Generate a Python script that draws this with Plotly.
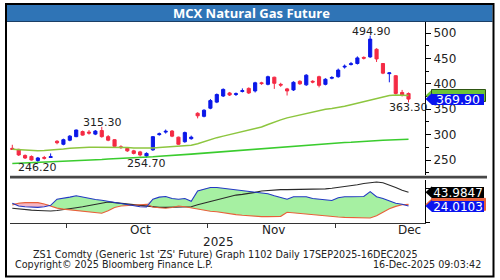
import numpy as np
import plotly.graph_objects as go

# ---------------- data ----------------
opens = [273, 271, 259, 257, 249, 255, 255, 287, 281, 289,
         296, 306, 305, 301, 308, 296, 290, 276, 273, 268,
         266, 258, 270, 300, 305, 307, 295, 286, 292, 342,
         336, 352, 364, 376, 382, 379, 385, 391, 386, 402,
         399, 413, 399, 390, 388, 405, 398, 405, 414, 399,
         411, 414, 433, 438, 440, 452, 453, 468, 440, 420,
         416, 383, 381]
highs = [280, 272, 261, 259, 256, 258, 263, 289, 292, 299,
         310, 308, 309, 309, 315.3, 299, 291, 279, 275, 270,
         268, 265, 297, 304, 310, 309, 296, 306, 298, 344,
         350, 370, 381, 391, 384, 383, 391, 393, 404, 404,
         416, 414, 402, 392, 405, 407, 419, 407, 416, 411,
         415, 430, 438, 443, 454, 454, 494.9, 470, 441, 423,
         417, 388, 383]
lows = [270, 258, 252, 249, 246.2, 251, 254, 281, 279, 287,
        295, 298, 300, 299, 294, 287, 276, 272, 266, 261,
        257, 254.7, 268, 298, 302, 295, 280, 284, 290, 332,
        334, 350, 362, 374, 376, 376, 383, 380, 383, 398,
        397, 390, 394, 377, 386, 398, 396, 401, 393, 397,
        409, 412, 430, 436, 438, 448, 451, 443, 419, 403,
        379, 375, 363.3]
closes = [271, 260, 254, 250, 254, 253.5, 256.5, 284, 290, 297,
          309, 299, 303, 307, 296, 289, 277, 274.5, 268, 263,
          260, 263, 296, 301.5, 306.5, 297, 281, 304, 295, 337,
          348, 367, 379, 389, 378, 380.5, 386.5, 382, 402, 400.5,
          414, 401, 397.5, 386, 403, 400, 417, 403.5, 397, 409,
          412.5, 427, 434.5, 439.5, 451, 450.5, 488, 449, 421, 421.5,
          381, 378, 369.9]
ma_short = [271, 270, 269, 268.5, 268, 268.5, 269, 270, 271.5, 273,
            274, 275, 275, 275, 275, 275, 275, 275, 274.5, 273.5,
            273, 273, 273.5, 274.5, 275.5, 277, 277.5, 278, 279, 282,
            286, 291, 294, 297, 300, 303, 306, 309, 312, 315,
            320, 325, 329, 333, 336, 339, 341.5, 344, 347, 350,
            351.5, 353, 356, 359, 362, 365, 368, 371, 375, 377,
            378, 378, 377]
ma_long = [243, 243.5, 244, 244.5, 245, 245.5, 246, 246.5, 247, 247.5,
           248.5, 249, 250, 250.5, 251, 252, 252.5, 253, 254, 254.5,
           255, 256, 256.5, 257.5, 258, 259, 259.5, 260.5, 261.5, 262.5,
           263.5, 264.5, 265.5, 266.5, 267.5, 268.5, 269.5, 270.5, 271.5, 272.5,
           273.5, 274.5, 275.5, 276.5, 277.5, 278.5, 279.5, 280, 281, 282,
           282.5, 283.5, 284.5, 285, 286, 286.5, 287.5, 288, 289, 289.5,
           290, 290.5, 291]
di_plus = [28, 24, 23, 22, 22, 23, 25, 34, 35, 37,
           39, 37, 35, 33.5, 32.5, 31, 29.5, 28, 26, 24,
           23, 22.6, 34, 37, 38, 35, 34, 35, 31, 46,
           49, 51, 51, 50, 48, 47, 46.5, 46, 45, 43,
           42, 39, 36, 34, 37.5, 37.5, 37.5, 35, 34, 33,
           32, 36, 37.5, 37.5, 37.5, 38, 45, 37.5, 35, 32,
           28, 26.5, 24.0103]
di_minus = [25.5, 28, 29, 29.4, 29, 27, 24, 21, 19.5, 18.5,
            17.5, 16.8, 15.5, 14, 13.4, 17, 22, 24, 25, 25.5,
            26, 26.5, 22.5, 21.5, 20.7, 22, 24, 23, 21.5, 19,
            17.5, 16.5, 15.7, 14, 12.5, 11.5, 10.5, 9.5, 8.7, 8.5,
            8.5, 8.5, 9, 15, 14, 13.4, 12.5, 11.5, 10.5, 9.5,
            8.7, 8, 7.5, 7, 6.5, 6, 6.5, 10, 15.5, 20,
            23.5, 26, 26.5]
adx = [20.7, 19.5, 18.5, 18, 17.5, 17, 16.8, 17.5, 18.5, 20,
       21.5, 23, 24.5, 26, 28, 30, 29, 28, 27, 25.5,
       24, 23, 22, 22, 22, 22, 22, 22, 23, 26,
       28.5, 31, 33.5, 36, 38.5, 40, 41, 42, 44, 46,
       47, 47.5, 48, 48, 48, 48, 48, 48, 48.5, 49,
       50, 51, 52, 53, 55, 57, 58.5, 59, 58, 55,
       51, 47, 43.9847]
month_labels = ["Oct", "Nov", "Dec"]
month_first_idx = [9, 31, 51]
month_label_pos = [20, 40.8, 62.2]
peak_idx = [14, 56]
trough_idx = [4, 21, 62]
title_text = "MCX Natural Gas Future"
year_text = "2025"
footer_1 = "ZS1 Comdty (Generic 1st 'ZS' Future) Graph 1102 Daily 17SEP2025-16DEC2025"
footer_2 = "Copyright\u00a9 2025 Bloomberg Finance L.P."
footer_3 = "16-Dec-2025 09:03:42"

# ---------------- geometry helpers ----------------
W, H = 500, 280
def px_x(p):
    return p / W
def px_y(p):
    return 1 - p / H

n = len(closes)
idx = list(range(n))
X_DOM = [px_x(10), px_x(425)]
Y1_DOM = [px_y(175), px_y(22)]
Y2_DOM = [px_y(222.5), px_y(180)]
X_RANGE = [-0.36, n - 1 + 2.58]
Y1_RANGE = [220.5, 521.7]
Y2_RANGE = [0, 62]
u1 = (Y1_RANGE[1] - Y1_RANGE[0]) / (175 - 22)     # price units per px
u2 = (Y2_RANGE[1] - Y2_RANGE[0]) / (222.5 - 180)  # indicator units per px

FONT = "DejaVu Sans"
BLUE_UP = "#0B18E8"
RED_DN = "#F42A44"

fig = go.Figure()

# moving averages
fig.add_trace(go.Scatter(x=idx, y=ma_long, mode="lines", line=dict(color="#3ACC2E", width=1.6),
                         xaxis="x", yaxis="y", hoverinfo="skip"))
fig.add_trace(go.Scatter(x=idx, y=ma_short, mode="lines", line=dict(color="#8DC63F", width=1.5),
                         xaxis="x", yaxis="y", hoverinfo="skip"))
# candles
fig.add_trace(go.Candlestick(
    x=idx, open=opens, high=highs, low=lows, close=closes,
    increasing=dict(line=dict(color=BLUE_UP, width=1), fillcolor=BLUE_UP),
    decreasing=dict(line=dict(color=RED_DN, width=1), fillcolor=RED_DN),
    whiskerwidth=0, xaxis="x", yaxis="y"))

# lower panel: DMI fills
dp = np.array(di_plus)
dm = np.array(di_minus)
top = np.maximum(dp, dm)
fig.add_trace(go.Scatter(x=idx, y=dm, mode="lines", line=dict(width=0), xaxis="x2", yaxis="y2", hoverinfo="skip"))
fig.add_trace(go.Scatter(x=idx, y=top, mode="lines", line=dict(width=0), fill="tonexty",
                         fillcolor="#A6F0A2", xaxis="x2", yaxis="y2", hoverinfo="skip"))
fig.add_trace(go.Scatter(x=idx, y=dp, mode="lines", line=dict(width=0), xaxis="x2", yaxis="y2", hoverinfo="skip"))
fig.add_trace(go.Scatter(x=idx, y=top, mode="lines", line=dict(width=0), fill="tonexty",
                         fillcolor="#F6B6C4", xaxis="x2", yaxis="y2", hoverinfo="skip"))
fig.add_trace(go.Scatter(x=idx, y=adx, mode="lines", line=dict(color="#2A2A2A", width=1.1),
                         xaxis="x2", yaxis="y2", hoverinfo="skip"))
fig.add_trace(go.Scatter(x=idx, y=di_minus, mode="lines", line=dict(color="#E8603A", width=1.1),
                         xaxis="x2", yaxis="y2", hoverinfo="skip"))
fig.add_trace(go.Scatter(x=idx, y=di_plus, mode="lines", line=dict(color="#2338C4", width=1.1),
                         xaxis="x2", yaxis="y2", hoverinfo="skip"))

annotations = []
shapes = []

# frame, title bar, separator
shapes.append(dict(type="rect", xref="paper", yref="paper", x0=px_x(7), x1=px_x(492.5),
                   y0=px_y(21.5), y1=px_y(4.5), fillcolor="#2F74B6", line=dict(width=0), layer="above"))
shapes.append(dict(type="line", xref="paper", yref="paper", x0=px_x(7), x1=px_x(492.5),
                   y0=px_y(21.5), y1=px_y(21.5), line=dict(color="#1B3F66", width=1), layer="above"))
shapes.append(dict(type="rect", xref="paper", yref="paper", x0=px_x(6), x1=px_x(493.5),
                   y0=px_y(276.5), y1=px_y(4), fillcolor="rgba(0,0,0,0)", line=dict(color="#000", width=2),
                   layer="above"))
shapes.append(dict(type="rect", xref="paper", yref="paper", x0=px_x(10), x1=px_x(487),
                   y0=px_y(178.6), y1=px_y(175.8), fillcolor="#474747", line=dict(width=0), layer="above"))

annotations.append(dict(text="<b>%s</b>" % title_text, xref="paper", yref="paper", x=px_x(251), y=px_y(13.2),
                        showarrow=False, font=dict(family="Open Sans", size=13, color="white"),
                        xanchor="center", yanchor="middle"))

# extreme labels
for i in peak_idx:
    annotations.append(dict(text="%.2f" % highs[i], x=i, y=highs[i], xref="x", yref="y", showarrow=False,
                            yanchor="bottom", xanchor="center", yshift=-4, xshift=1,
                            font=dict(family=FONT, size=11, color="#222")))
for i in trough_idx:
    annotations.append(dict(text="%.2f" % lows[i], x=i, y=lows[i], xref="x", yref="y", showarrow=False,
                            yanchor="top", xanchor="center", yshift=3,
                            font=dict(family=FONT, size=11, color="#222")))

# month labels and bottom texts
for lab, pos in zip(month_labels, month_label_pos):
    annotations.append(dict(text=lab, x=pos, y=px_y(230), xref="x2", yref="paper", showarrow=False,
                            xanchor="center", yanchor="middle", font=dict(family=FONT, size=12, color="#222")))
annotations.append(dict(text=year_text, x=px_x(218.5), y=px_y(241.7), xref="paper", yref="paper", showarrow=False,
                        xanchor="center", yanchor="middle", font=dict(family=FONT, size=12, color="#222")))
annotations.append(dict(text=footer_1, x=px_x(31), y=px_y(254), xref="paper", yref="paper", showarrow=False,
                        xanchor="left", yanchor="middle", font=dict(family=FONT, size=9.6, color="#222")))
annotations.append(dict(text=footer_2, x=px_x(13), y=px_y(264.5), xref="paper", yref="paper", showarrow=False,
                        xanchor="left", yanchor="middle", font=dict(family=FONT, size=9.6, color="#222")))
annotations.append(dict(text=footer_3, x=px_x(483), y=px_y(264.5), xref="paper", yref="paper", showarrow=False,
                        xanchor="right", yanchor="middle", font=dict(family=FONT, size=9.6, color="#222")))

# right-side value flags
def flag(value, yref, unit, bg, txt=None, txtcolor="white", size=12, border=None):
    half = 6 * unit
    shapes.append(dict(type="path", xref="paper", yref=yref,
                       path="M %f %f L %f %f L %f %f L %f %f Z" % (
                           px_x(425.5), value, px_x(432), value + half,
                           px_x(433), value, px_x(432), value - half),
                       fillcolor=bg, line=dict(width=0), layer="above"))
    if txt is None:
        # flag whose text is covered by the next flag: draw only its box
        shapes.append(dict(type="rect", xref="paper", yref=yref, x0=px_x(431.5), x1=px_x(485.5),
                           y0=value - half, y1=value + half, fillcolor=bg,
                           line=dict(color=border if border else bg, width=1), layer="above"))
        return
    annotations.append(dict(text=txt, x=px_x(431.5), y=value, xref="paper", yref=yref, showarrow=False,
                            xanchor="left", yanchor="middle", width=52, height=11, align="center",
                            bgcolor=bg, borderpad=0, borderwidth=0,
                            font=dict(family=FONT, size=size, color=txtcolor)))

flag(ma_short[-1], "y", u1, "#6CC436", border="#2E5512")
flag(closes[-1], "y", u1, "#0A14EE", "%.2f" % closes[-1], "white", 12.5)
flag(adx[-1], "y2", u2, "#000000", "%.4f" % adx[-1], "white", 12)
flag(di_minus[-1], "y2", u2, "#E8603A")
flag(di_plus[-1], "y2", u2, "#0A14EE", "%.4f" % di_plus[-1], "white", 12)

fig.update_layout(
    width=W, height=H, margin=dict(l=0, r=0, t=0, b=0),
    paper_bgcolor="white", plot_bgcolor="white", showlegend=False,
    xaxis=dict(domain=X_DOM, range=X_RANGE, visible=False, anchor="y",
               rangeslider=dict(visible=False), showgrid=False, zeroline=False),
    yaxis=dict(domain=Y1_DOM, range=Y1_RANGE, side="right", anchor="x", showline=True,
               linecolor="#000", linewidth=1, ticks="outside", ticklen=5, tickcolor="#000",
               tickmode="linear", tick0=0, dtick=50, showgrid=False, zeroline=False,
               tickfont=dict(family=FONT, size=12, color="#222"),
               minor=dict(ticks="outside", ticklen=3, tick0=25, dtick=25, tickcolor="#000", showgrid=False)),
    xaxis2=dict(domain=X_DOM, range=X_RANGE, anchor="y2", showline=True, linecolor="#333",
                ticks="outside", ticklen=4, tickcolor="#333",
                tickvals=[b - 0.5 for b in month_first_idx], showticklabels=False,
                showgrid=False, zeroline=False),
    yaxis2=dict(domain=Y2_DOM, range=Y2_RANGE, side="right", anchor="x2", showline=True,
                linecolor="#000", ticks="outside", ticklen=4, tickcolor="#000",
                tickvals=[0, 50], showticklabels=False, showgrid=False, zeroline=False),
    shapes=shapes, annotations=annotations,
)

fig.write_html("out.html")
